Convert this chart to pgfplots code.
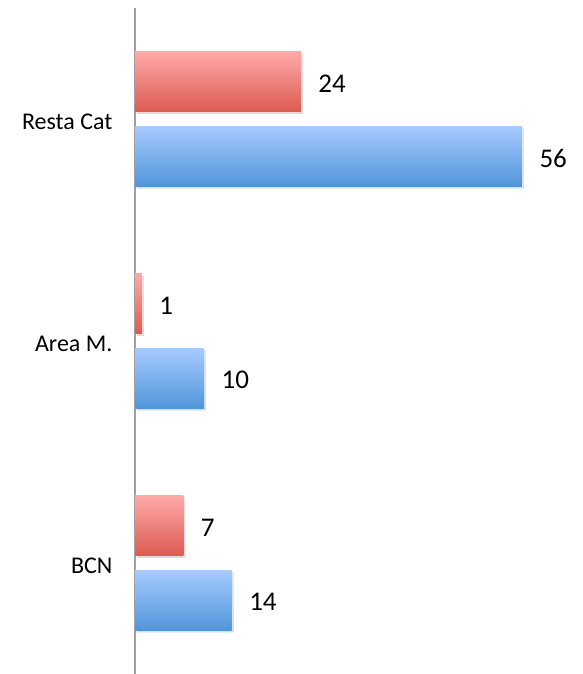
\documentclass[border=0pt]{standalone}
\usepackage{pgfplots}
\pgfplotsset{compat=1.18}
\usepackage{fontspec}
\setmainfont{Carlito}
\usetikzlibrary{shadows}
\definecolor{redtop}{HTML}{FFA9A9}
\definecolor{redbot}{HTML}{DC5A50}
\definecolor{bluetop}{HTML}{A7CBFF}
\definecolor{bluebot}{HTML}{5095DA}
\definecolor{axgray}{HTML}{A0A0A0}
\pgfplotsset{
  redbar/.style={draw=none, top color=redtop, bottom color=redbot,
    drop shadow={shadow xshift=2pt, shadow yshift=-2pt, opacity=0.15}},
  bluebar/.style={draw=none, top color=bluetop, bottom color=bluebot,
    drop shadow={shadow xshift=2pt, shadow yshift=-2pt, opacity=0.15}},
}
\begin{document}
\begin{tikzpicture}
\begin{axis}[
  at={(135pt,0pt)}, anchor=south west,
  scale only axis,
  width=420pt, height=666pt,
  xmin=0, xmax=60.78,
  ymin=-0.5, ymax=2.5,
  hide x axis,
  axis y line*=left,
  y axis line style={draw=axgray, line width=1.3pt},
  ytick={0,1,2},
  yticklabels={BCN, Area M., Resta Cat},
  major tick length=0pt,
  yticklabel style={font=\fontsize{24}{28}\selectfont, xshift=-19pt, yshift=-3pt},
  clip=false,
  xbar, bar width=60pt, bar shift=0pt,
  nodes near coords,
  nodes near coords style={font=\fontsize{27}{32}\selectfont, anchor=west, xshift=14pt, yshift=-2pt, /pgf/number format/assume math mode=true, text=black},
]
% red series (upper bar of each pair)
\addplot[redbar] coordinates {(7,0.1667)};
\addplot[redbar] coordinates {(1,1.1667)};
\addplot[redbar] coordinates {(24,2.1667)};
% blue series (lower bar of each pair)
\addplot[bluebar] coordinates {(14,-0.1667)};
\addplot[bluebar] coordinates {(10,0.8333)};
\addplot[bluebar] coordinates {(56,1.8333)};
\end{axis}
\pgfresetboundingbox
\path[use as bounding box] (0,0) rectangle (582pt,674pt);
\end{tikzpicture}
\end{document}
